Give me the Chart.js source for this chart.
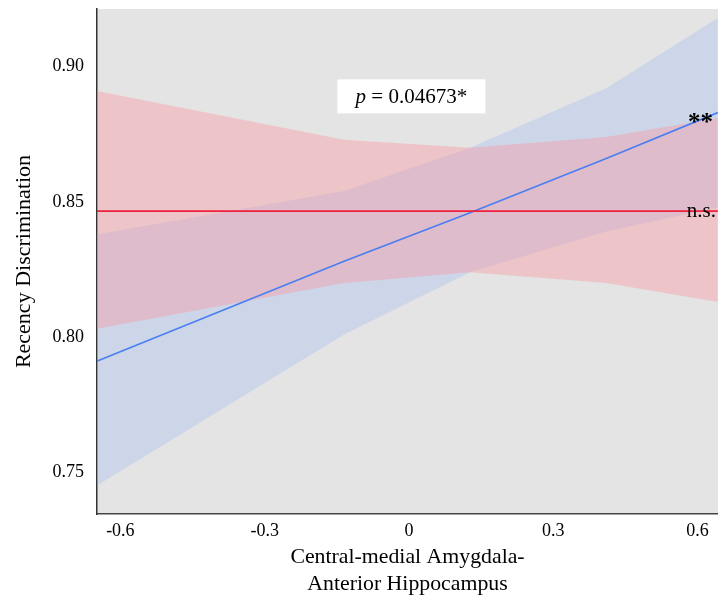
<!DOCTYPE html>
<html>
<head>
<meta charset="utf-8">
<script src="https://cdn.jsdelivr.net/npm/chart.js@4/dist/chart.umd.min.js"></script>
<style>
  body { margin: 0; background: #fff; }
  #wrap { width: 718px; height: 598px; }
</style>
</head>
<body>
<div id="wrap"><canvas id="chart" width="718" height="598"></canvas></div>
<script>
// connectivity values where the fitted bands bend
const xPoints = [-0.65, -0.135, 0.127, 0.41, 0.642];

// blue group (significant)
const blueFit   = [0.791, 0.828, 0.846, 0.866, 0.883];
const blueUpper = [0.838, 0.854, 0.870, 0.892, 0.918];
const blueLower = [0.745, 0.801, 0.824, 0.839, 0.848];

// red group (n.s.)
const redFit   = [0.8466, 0.8466, 0.8466, 0.8466, 0.8466];
const redUpper = [0.891, 0.873, 0.870, 0.874, 0.881];
const redLower = [0.803, 0.820, 0.824, 0.820, 0.813];

const xTicks = [-0.6, -0.3, 0, 0.3, 0.6];
const yTicks = [0.75, 0.80, 0.85, 0.90];

const pLabel = { text: ' = 0.04673*', x: 0.005, y: 0.889 };

const serif = '"Liberation Serif", "DejaVu Serif", serif';

function pts(vals) {
    return vals.map((v, i) => ({ x: xPoints[i], y: v }));
}

// grey panel behind the plot
const panelBg = {
    id: 'panelBg',
    beforeDraw(chart) {
        const { ctx, chartArea: a } = chart;
        ctx.save();
        ctx.fillStyle = '#e4e4e4';
        ctx.fillRect(a.left, a.top, a.right - a.left, a.bottom - a.top);
        ctx.restore();
    }
};

// p-value box and significance marks
const annotations = {
    id: 'annotations',
    afterDatasetsDraw(chart) {
        const { ctx, chartArea: a, scales: { x, y } } = chart;
        ctx.save();

        // p = ... box
        const cx = x.getPixelForValue(pLabel.x);
        const cy = y.getPixelForValue(pLabel.y);
        ctx.font = 'italic 21px ' + serif;
        const wp = ctx.measureText('p').width;
        ctx.font = '21px ' + serif;
        const wr = ctx.measureText(pLabel.text).width;
        const w = wp + wr;
        ctx.fillStyle = '#fff';
        ctx.fillRect(cx - 74, cy - 17, 148, 34);
        ctx.fillStyle = '#000';
        ctx.textBaseline = 'middle';
        ctx.textAlign = 'left';
        ctx.font = 'italic 21px ' + serif;
        ctx.fillText('p', cx - w / 2, cy + 1);
        ctx.font = '21px ' + serif;
        ctx.fillText(pLabel.text, cx - w / 2 + wp, cy + 1);

        // ** next to the blue fit
        const by = y.getPixelForValue(blueFit[blueFit.length - 1]);
        ctx.textAlign = 'right';
        ctx.textBaseline = 'alphabetic';
        ctx.font = 'bold 25px ' + serif;
        ctx.fillText('**', a.right - 5, by + 17);

        // n.s. on the red fit
        const ry = y.getPixelForValue(redFit[redFit.length - 1]);
        ctx.font = '21px ' + serif;
        ctx.fillText('n.s.', a.right - 2, ry + 6);
        ctx.restore();
    }
};

new Chart(document.getElementById('chart'), {
    type: 'line',
    data: {
        datasets: [
            { data: pts(blueLower), borderWidth: 0, pointRadius: 0, fill: false, order: 4 },
            { data: pts(blueUpper), borderWidth: 0, pointRadius: 0, fill: '-1',
              backgroundColor: 'rgba(151, 181, 241, 0.3)', order: 4 },
            { data: pts(redLower), borderWidth: 0, pointRadius: 0, fill: false, order: 3 },
            { data: pts(redUpper), borderWidth: 0, pointRadius: 0, fill: '-1',
              backgroundColor: 'rgba(255, 140, 150, 0.35)', order: 3 },
            { data: pts(blueFit), borderColor: '#4a7ef2', borderWidth: 1.6, pointRadius: 0, fill: false, order: 2 },
            { data: pts(redFit), borderColor: '#ef1f3d', borderWidth: 1.8, pointRadius: 0, fill: false, order: 1 }
        ]
    },
    options: {
        responsive: false,
        animation: false,
        layout: { padding: { top: 9, right: 0, left: 0, bottom: 0 } },
        plugins: { legend: { display: false }, tooltip: { enabled: false } },
        elements: { line: { tension: 0 } },
        scales: {
            x: {
                type: 'linear',
                min: -0.6486,
                max: 0.6424,
                grid: { display: false, drawTicks: false },
                border: { display: true, color: '#444', width: 1.5 },
                afterBuildTicks: s => { s.ticks = xTicks.map(v => ({ value: v })); },
                afterFit: s => { s.height = 84; s.paddingLeft = 0; s.paddingRight = 0; },
                ticks: {
                    padding: 6,
                    color: '#000',
                    font: { family: serif, size: 18 },
                    callback: v => (v === 0 ? '0' : v.toFixed(1))
                },
                title: {
                    display: true,
                    text: ['Central-medial Amygdala-', 'Anterior Hippocampus'],
                    color: '#000',
                    font: { family: serif, size: 21.8 },
                    padding: { top: 0, bottom: 1 }
                }
            },
            y: {
                min: 0.7346,
                max: 0.9213,
                grid: { display: false, drawTicks: false },
                border: { display: true, color: '#333', width: 1.5 },
                afterBuildTicks: s => { s.ticks = yTicks.map(v => ({ value: v })); },
                afterFit: s => { s.width = 97; s.paddingTop = 0; s.paddingBottom = 0; },
                ticks: {
                    padding: 13,
                    color: '#000',
                    font: { family: serif, size: 18 },
                    callback: v => v.toFixed(2)
                },
                title: {
                    display: true,
                    text: 'Recency Discrimination',
                    color: '#000',
                    font: { family: serif, size: 22 },
                    padding: { top: 11, bottom: 0 }
                }
            }
        }
    },
    plugins: [panelBg, annotations]
});
</script>
</body>
</html>
